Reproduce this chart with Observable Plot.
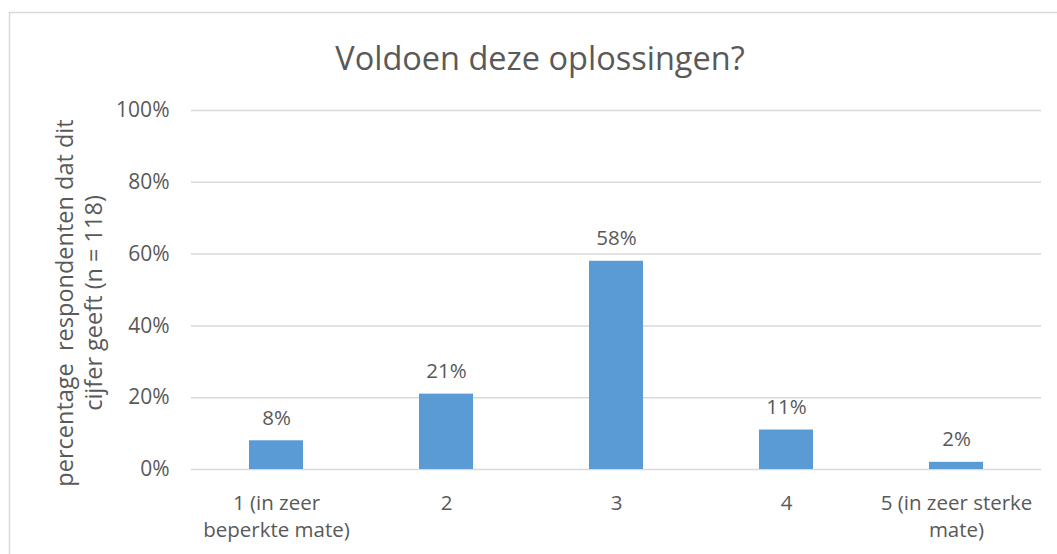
<!DOCTYPE html>
<html>
<head>
<meta charset="utf-8">
<script src="https://cdn.jsdelivr.net/npm/d3@7"></script>
<script src="https://cdn.jsdelivr.net/npm/@observablehq/plot@0.6"></script>
<style>
  html, body { margin: 0; padding: 0; background: #fff; }
  svg { display: block; }
</style>
</head>
<body>
<div id="chart"></div>
<script>
const categories = ["1", "2", "3", "4", "5"];
const tickLabels = ["1 (in zeer\nbeperkte mate)", "2", "3", "4", "5 (in zeer sterke\nmate)"];
const values = [8, 21, 58, 11, 2];
const yTicks = [0, 20, 40, 60, 80, 100];
const titleText = "Voldoen deze oplossingen?";
const yLabelLines = ["percentage  respondenten dat dit", "cijfer geeft (n = 118)"];

const data = categories.map((c, i) => ({cat: c, value: values[i]}));
const FONT = "'Open Sans', sans-serif";
const TXT = "#595959";
const GRID = "#d9d9d9";

const W = 1057, H = 554;
const plot = Plot.plot({
  width: W,
  height: H,
  marginLeft: 191,
  marginRight: 16,
  marginTop: 110,
  marginBottom: 85,
  style: {fontFamily: FONT, fontSize: "20px", color: TXT, background: "#fff"},
  x: {domain: categories, paddingInner: 0.68, paddingOuter: 0.34, label: null},
  y: {domain: [0, 100], label: null},
  marks: [
    Plot.ruleY(yTicks, {stroke: GRID, strokeWidth: 1.5}),
    Plot.barY(data, {x: "cat", y: "value", fill: "#5b9bd5"}),
    Plot.text(data, {x: "cat", y: "value", text: d => d.value + "%", lineAnchor: "bottom", dy: -16, fill: TXT, fontSize: 20.5}),
    Plot.axisY({ticks: yTicks, tickFormat: d => d + "%", tickSize: 0, tickPadding: 22, fill: TXT, fontSize: 21}),
    Plot.axisX({tickFormat: (d, i) => tickLabels[categories.indexOf(d)], tickSize: 0, tickPadding: 22, fill: TXT, fontSize: 20.5, lineHeight: 1.3})
  ]
});

const svg = d3.select(plot);
svg.insert("rect", ":first-child")
  .attr("x", 9.5).attr("y", 12.5).attr("width", W + 20).attr("height", H + 20)
  .attr("fill", "#fff").attr("stroke", GRID).attr("stroke-width", 1.5);

svg.append("text")
  .attr("x", 540).attr("y", 70)
  .attr("text-anchor", "middle")
  .attr("font-family", FONT).attr("font-size", 32.5)
  .attr("fill", TXT)
  .text(titleText);

const yl = svg.append("text")
  .attr("transform", "translate(0,303) rotate(-90)")
  .attr("text-anchor", "middle")
  .attr("font-family", FONT).attr("font-size", 23.5)
  .attr("fill", TXT)
  .style("white-space", "pre");
yl.append("tspan").attr("x", 0).attr("y", 73).text(yLabelLines[0]);
yl.append("tspan").attr("x", 0).attr("y", 102).text(yLabelLines[1]);

document.getElementById("chart").appendChild(plot);
</script>
</body>
</html>
